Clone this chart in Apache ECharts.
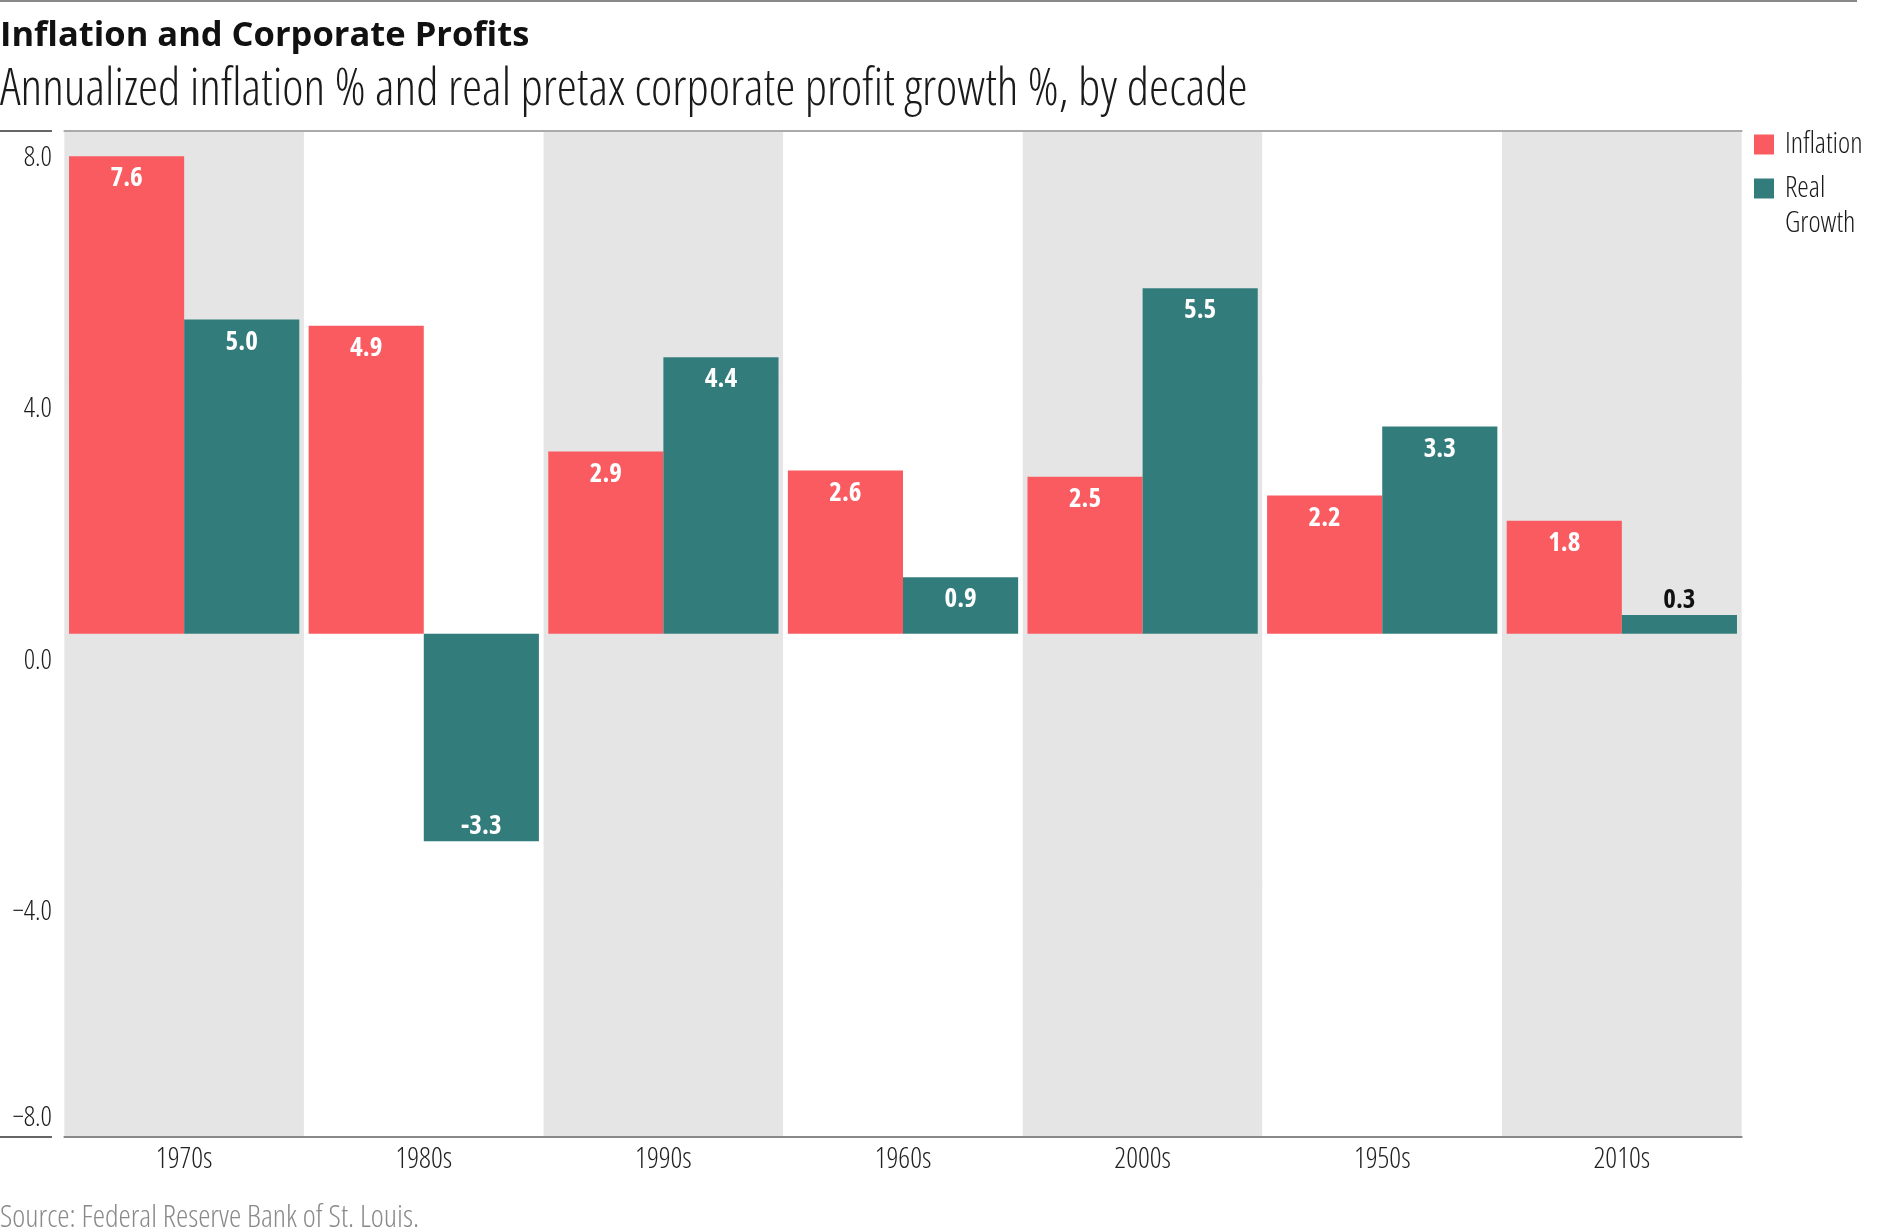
<!DOCTYPE html>
<html><head><meta charset="utf-8">
<script src="https://cdn.jsdelivr.net/npm/echarts@6/dist/echarts.min.js"></script>
<style>html,body{margin:0;padding:0;background:#fff}#c{width:1896px;height:1232px}</style>
</head><body><div id="c"></div>
<script>
const categories = ['1970s', '1980s', '1990s', '1960s', '2000s', '1950s', '2010s'];
const inflation = [7.6, 4.9, 2.9, 2.6, 2.5, 2.2, 1.8];
const realGrowth = [5.0, -3.3, 4.4, 0.9, 5.5, 3.3, 0.3];
const yTicks = [-8, -4, 0, 4, 8];
const seriesNames = ['Inflation', 'Real Growth'];
const titleText = 'Inflation and Corporate Profits';
const subtitleText = 'Annualized inflation % and real pretax corporate profit growth %, by decade';
const sourceText = 'Source: Federal Reserve Bank of St. Louis.';

const FONT = "'Open Sans', Roboto, sans-serif";
const NW = '300 condensed';
const BW = 'bold condensed';
const RED = '#f95b60', TEAL = '#337c7c';

function barData(values) {
  return values.map(v => {
    if (v < 0) return { value: v, label: { position: 'insideBottom', distance: 1 } };
    if (v < 0.5) return { value: v, label: { position: 'top', distance: 1, color: '#111' } };
    return v;
  });
}
function yFmt(v) {
  const s = (v < 0 ? '\u2212' : '') + Math.abs(v).toFixed(1);
  return v === yTicks[0] ? '{up|' + s + '}' : '{dn|' + s + '}';
}
const barLabel = {
  show: true, position: 'insideTop', distance: 9, color: '#fff',
  fontFamily: FONT, fontWeight: BW, fontSize: 27,
  formatter: p => Number(p.value).toFixed(1)
};

const chart = echarts.init(document.getElementById('c'), null, { renderer: 'canvas' });
chart.setOption({
  animation: false,
  backgroundColor: '#fff',
  title: [
    {
      text: titleText, subtext: subtitleText, left: 0, top: 16, padding: 0, itemGap: 12,
      textStyle: { fontFamily: FONT, fontWeight: 'bold', fontSize: 34.5, color: '#111', lineHeight: 40 },
      subtextStyle: { fontFamily: FONT, fontWeight: NW, fontSize: 50.8, color: '#1a1a1a', lineHeight: 46 }
    },
    {
      text: sourceText, left: 0, top: 1203, padding: 0,
      textStyle: { fontFamily: FONT, fontWeight: NW, fontSize: 31, color: '#8a8a8a', lineHeight: 30 }
    }
  ],
  graphic: [
    { type: 'line', shape: { x1: 0, y1: 1, x2: 1857, y2: 1 }, style: { stroke: '#888', lineWidth: 2 } }
  ],
  legend: {
    orient: 'vertical', left: 1754, top: 127, padding: 0, itemWidth: 20, itemHeight: 20, itemGap: -26,
    icon: 'rect',
    textStyle: { fontSize: 29, fontFamily: FONT, fontWeight: NW, color: '#1a1a1a', lineHeight: 35, padding: [0, 0, 0, 6] },
    formatter: n => n.indexOf(' ') >= 0 ? ' \n' + n.replace(' ', '\n') : n,
    data: seriesNames
  },
  grid: { left: 64.35, right: 154.35, top: 131, bottom: 95.3, outerBoundsMode: 'none', containLabel: false },
  xAxis: [
    {
      type: 'category', data: categories, position: 'bottom',
      axisLine: { show: true, onZero: false, lineStyle: { color: '#888', width: 2 } },
      axisTick: { show: false },
      axisLabel: { color: '#222', fontFamily: FONT, fontWeight: NW, fontSize: 29, margin: 9 },
      splitArea: { show: true, areaStyle: { color: ['#e5e5e5', '#ffffff'] } },
      splitLine: { show: false }
    },
    {
      type: 'category', data: categories, position: 'top',
      axisLine: { show: true, onZero: false, lineStyle: { color: '#aaa', width: 2 } },
      axisTick: { show: false }, axisLabel: { show: false }, splitLine: { show: false }
    }
  ],
  yAxis: [
    {
      type: 'value', min: yTicks[0], max: yTicks[yTicks.length - 1], interval: 4,
      axisLine: { show: false }, axisTick: { show: false }, axisLabel: { show: false },
      splitLine: { show: true, lineStyle: { color: ['#888', '#d2d2d2', '#e0e0e0', '#d2d2d2', '#aaaaaa'], width: 1 } }
    },
    {
      type: 'value', min: yTicks[0], max: yTicks[yTicks.length - 1], interval: 4,
      position: 'left', offset: 12.35,
      axisLine: { show: false },
      axisTick: { show: true, customValues: [yTicks[0], yTicks[yTicks.length - 1]], length: 52, lineStyle: { color: '#666', width: 2 } },
      splitLine: { show: false },
      axisLabel: {
        margin: 0, verticalAlign: 'middle', formatter: yFmt,
        rich: {
          up: { fontFamily: FONT, fontWeight: NW, fontSize: 28, color: '#1a1a1a', padding: [0, 0, 38, 0] },
          dn: { fontFamily: FONT, fontWeight: NW, fontSize: 28, color: '#1a1a1a', padding: [54, 0, 0, 0] }
        }
      }
    }
  ],
  series: [
    {
      name: seriesNames[0], type: 'bar', data: barData(inflation), xAxisIndex: 0, yAxisIndex: 0,
      barGap: '0%', barCategoryGap: '3.9%', itemStyle: { color: RED }, label: barLabel
    },
    {
      name: seriesNames[1], type: 'bar', data: barData(realGrowth), xAxisIndex: 0, yAxisIndex: 0,
      barGap: '0%', barCategoryGap: '3.9%', itemStyle: { color: TEAL }, label: barLabel
    }
  ]
});
</script></body></html>
